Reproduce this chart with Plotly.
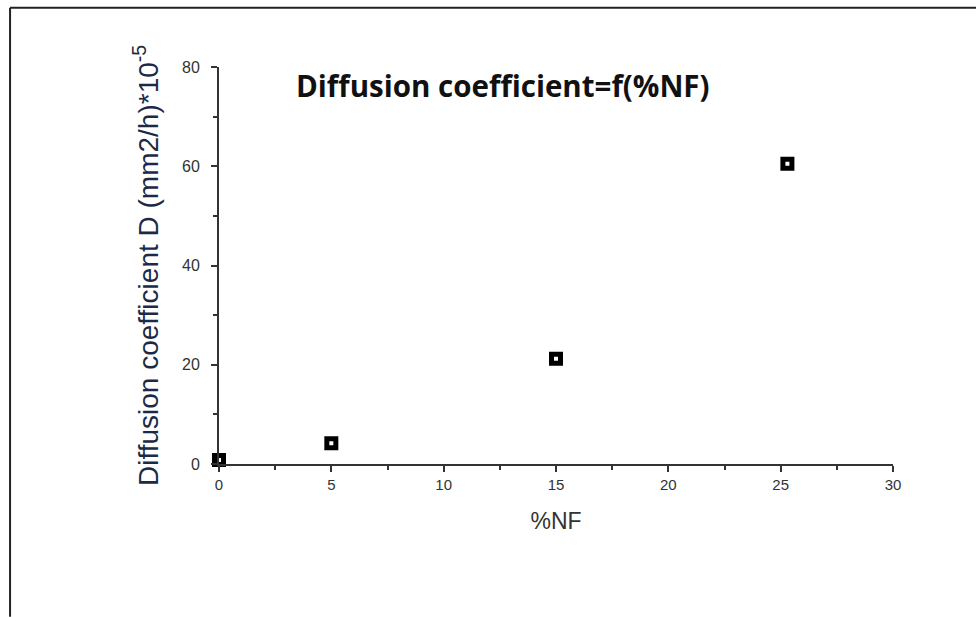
import plotly.graph_objects as go

nf_percent = [0, 5, 15, 25.3]
diff_coef = [0.8, 4.2, 21.2, 60.5]
x_ticks = [0, 5, 10, 15, 20, 25, 30]
y_ticks = [0, 20, 40, 60, 80]

fig = go.Figure()
fig.add_trace(go.Scatter(
    x=nf_percent, y=diff_coef, mode="markers", cliponaxis=False,
    marker=dict(symbol="square", size=9, color="white",
                line=dict(color="black", width=5)),
    showlegend=False,
))

axis_common = dict(showgrid=False, zeroline=False, showline=True,
                   linecolor="#333", linewidth=2, ticks="outside",
                   tickcolor="#333", tickwidth=2, ticklen=6)

fig.update_xaxes(range=[0, 30], tickvals=x_ticks,
                 tickfont=dict(family="Liberation Sans", size=15, color="#333"),
                 minor=dict(ticks="outside", dtick=2.5, ticklen=4, tickcolor="#333", tickwidth=2),
                 title=dict(text="%NF", font=dict(family="Liberation Sans", size=23, color="#333"), standoff=21),
                 **axis_common)
fig.update_yaxes(range=[0, 80], tickvals=y_ticks,
                 tickfont=dict(family="Liberation Sans", size=16, color="#333"),
                 ticklabelstandoff=8,
                 minor=dict(ticks="outside", dtick=10, ticklen=4, tickcolor="#333", tickwidth=2),
                 **axis_common)

fig.add_annotation(text="Diffusion coefficient D (mm2/h)*10<sup>-5</sup>",
                   xref="paper", yref="paper", x=-0.109, y=0.5, xanchor="center", yanchor="middle",
                   textangle=-90, showarrow=False,
                   font=dict(family="Liberation Sans", size=28, color="#1c2a48"))
fig.add_annotation(text="<b>Diffusion coefficient=f(%NF)</b>",
                   xref="paper", yref="paper", x=0.421, y=0.953, xanchor="center", yanchor="middle",
                   showarrow=False,
                   font=dict(family="Open Sans", size=29.5, color="#111"))

# outer frame (left and top edges)
fig.add_shape(type="line", xref="paper", yref="paper", x0=-0.31, x1=-0.31, y0=1.149, y1=-0.385,
              line=dict(color="#222", width=2))
fig.add_shape(type="line", xref="paper", yref="paper", x0=-0.31, x1=1.15, y0=1.149, y1=1.149,
              line=dict(color="#222", width=2))

fig.update_layout(width=976, height=617, margin=dict(l=219, r=83, t=67, b=153),
                  paper_bgcolor="white", plot_bgcolor="white")
fig.write_html("out.html")
